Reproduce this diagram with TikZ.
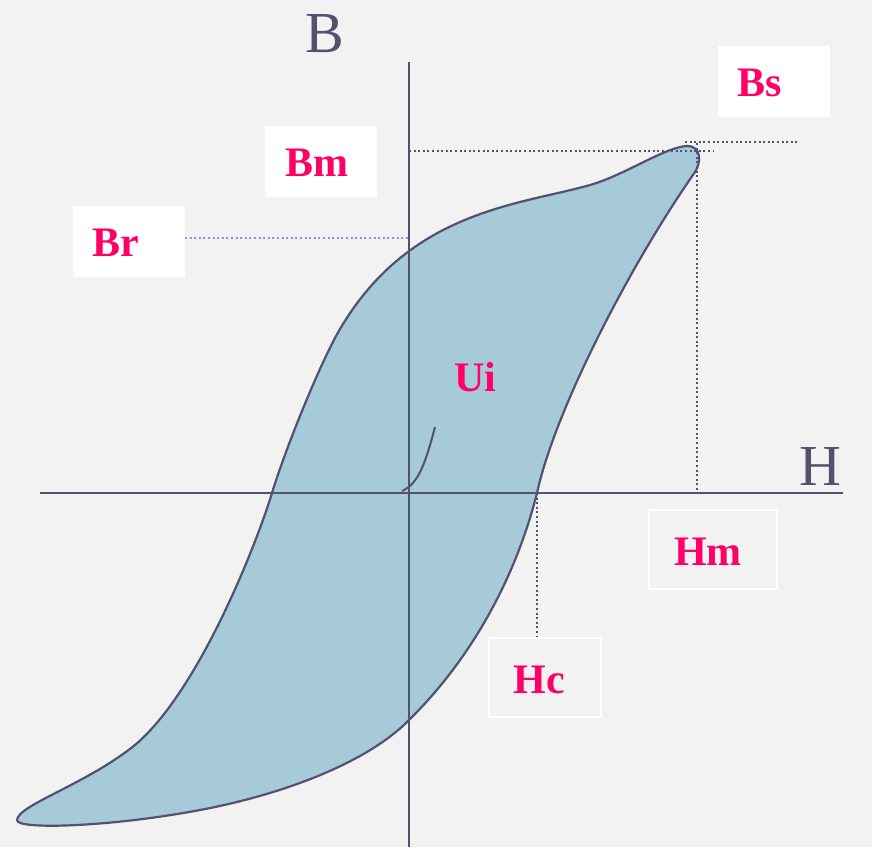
\documentclass[tikz,border=0pt]{standalone}
\usepackage{fontspec}
\setmainfont{Liberation Serif}
\definecolor{bgc}{RGB}{242,242,242}
\definecolor{axc}{RGB}{82,82,112}
\definecolor{loopc}{RGB}{166,202,216}
\definecolor{pinkc}{RGB}{255,0,102}
\definecolor{brc}{RGB}{140,140,235}
\tikzset{
  lbl/.style={text=pinkc, font=\bfseries\fontsize{42}{42}\selectfont, inner sep=0pt},
  axlbl/.style={text=axc, font=\fontsize{58}{58}\selectfont, inner sep=0pt},
  wbox/.style={fill=white, draw=none, inner sep=0pt},
  obox/.style={draw=white, line width=2pt, inner sep=0pt},
  dots/.style={draw=axc, line width=2pt, dash pattern=on 2pt off 2.6pt},
  axis/.style={draw=axc, line width=2pt}
}
\begin{document}
\begin{tikzpicture}[x=1pt,y=-1pt]
\fill[bgc] (0,0) rectangle (872,847);
\useasboundingbox (0,0) rectangle (872,847);
% loop
\draw[fill=loopc, draw=axc, line width=2.2pt]
 (687,146) .. controls (665,147) and (625,175) .. (590,185)
 .. controls (520,205) and (410,210) .. (340,329)
 .. controls (320,363) and (285,450) .. (272,493)
 .. controls (257.7,540.3) and (200,690) .. (135,745)
 .. controls (85,785) and (18,805) .. (17,820)
 .. controls (16,830) and (110,827) .. (200,810)
 .. controls (290,793) and (370,760) .. (409,720)
 .. controls (470,660) and (515,580) .. (537,493)
 .. controls (555,410) and (630,265) .. (695,172)
 .. controls (701,163) and (702,146) .. (687,146) -- cycle;
% axes
\coordinate (ytop) at (409,62);
\coordinate (ybot) at (409,847);
\coordinate (xl) at (40,493);
\coordinate (xr) at (843,493);
\draw[axis] (ytop) -- (ybot);
\draw[axis] (xl) -- (xr);
% Ui initial curve
\coordinate (u0) at (402,491);
\coordinate (u1) at (435,427);
\draw[axc, line width=2pt] (u0) .. controls (418,484) and (425,465) .. (u1);
% dotted lines
\coordinate (bm0) at (409,151);
\coordinate (bm1) at (713,151);
\draw[dots] (bm0) -- (bm1);
\coordinate (bs0) at (685,142);
\coordinate (bs1) at (798,142);
\draw[dots] (bs0) -- (bs1);
\coordinate (hm0) at (697,143);
\coordinate (hm1) at (697,493);
\draw[dots] (hm0) -- (hm1);
\coordinate (hc0) at (537,493);
\coordinate (hc1) at (537,637);
\draw[dots] (hc0) -- (hc1);
\coordinate (br0) at (185,238);
\coordinate (br1) at (409,238);
\draw[dots, draw=brc] (br0) -- (br1);
% boxes
\node[wbox, minimum width=112pt, minimum height=71pt] (bsbox) at (774,81.5) {};
\node[wbox, minimum width=112pt, minimum height=71pt] (bmbox) at (321,161.5) {};
\node[wbox, minimum width=112pt, minimum height=71pt] (brbox) at (129,241.5) {};
\node[obox, minimum width=128pt, minimum height=79pt] (hmbox) at (713,549.5) {};
\node[obox, minimum width=112pt, minimum height=79pt] (hcbox) at (545,677.5) {};
% labels
\node[lbl] (bs) at (760,83) {Bs};
\node[lbl] (bm) at (317,163) {Bm};
\node[lbl] (br) at (116,243) {Br};
\node[lbl] (hm) at (708,552) {Hm};
\node[lbl] (hc) at (539,680) {Hc};
\node[lbl] (ui) at (475,377) {Ui};
\node[axlbl] (b) at (325,34) {B};
\node[axlbl] (h) at (820,466) {H};
\end{tikzpicture}
\end{document}
